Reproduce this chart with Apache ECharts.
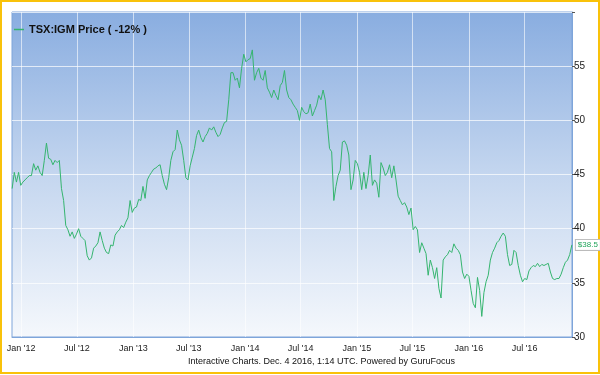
<!DOCTYPE html>
<html><head><meta charset="utf-8">
<script src="https://cdn.jsdelivr.net/npm/echarts@6/dist/echarts.min.js"></script>
<style>html,body{margin:0;padding:0;background:#fff}#c{width:600px;height:375px}</style>
</head><body><div id="c"></div>
<script>
// ---- data ----
const seriesName = "TSX:IGM Price ( -12% )";
const firstWeek = [2011, 12, 2];      // weekly closes, first one on Dec 2 2011
const prices = [
43.7,45.2,44.3,45.2,44.0,44.3,44.5,44.7,44.9,44.9,46.0,45.4,45.8,45.2,44.9,46.3,47.9,46.5,46.4,45.9,
46.3,46.1,46.3,43.7,42.6,40.3,39.9,39.3,39.7,39.1,39.5,40.0,39.3,39.1,38.9,37.5,37.1,37.3,38.2,38.4,
38.7,39.7,38.9,38.2,37.8,37.7,38.5,38.4,39.4,39.7,39.9,40.3,40.1,40.6,41.0,42.6,41.5,41.9,42.0,42.7,
42.6,43.9,42.8,44.5,44.9,45.2,45.5,45.6,45.8,45.9,44.9,44.1,43.6,44.7,46.3,47.1,47.3,49.1,48.2,47.7,
46.3,44.7,44.5,45.8,46.6,47.4,48.6,49.1,48.4,48.0,48.5,48.8,49.3,49.1,49.4,48.9,48.5,48.7,49.3,49.8,
49.9,51.9,54.4,54.4,53.7,53.9,53.0,54.8,56.1,55.4,55.6,55.7,56.5,53.7,54.4,54.8,53.9,53.7,54.6,53.0,
52.6,52.1,52.8,52.3,51.9,53.2,53.5,54.6,52.8,52.1,51.9,51.5,51.2,50.9,50.0,51.2,50.8,50.6,50.7,51.5,
50.4,50.9,51.4,52.3,51.9,52.8,51.9,49.6,47.4,47.1,42.6,43.9,44.9,45.4,48.0,48.1,47.7,46.8,43.6,44.5,
46.3,46.0,45.2,43.6,45.2,43.7,44.9,46.8,44.0,44.5,44.2,42.9,46.1,45.6,44.9,45.2,45.9,44.7,45.8,44.5,
43.0,42.6,42.2,42.4,42.0,41.3,41.9,39.9,40.2,39.9,37.8,38.7,38.2,37.7,35.7,37.1,36.4,35.4,36.4,34.5,
33.6,37.1,37.4,37.6,38.0,37.8,38.6,38.2,38.0,37.6,36.0,35.4,35.8,35.6,34.3,33.1,32.7,35.5,34.3,31.9,
34.1,35.1,35.7,37.1,37.8,38.2,38.7,38.9,39.3,39.6,39.3,37.6,36.6,36.7,38.0,37.8,36.6,35.7,35.1,35.4,
35.3,36.1,36.4,36.6,36.5,36.8,36.5,36.7,36.6,36.7,36.8,36.0,35.4,35.3,35.4,35.4,35.8,36.4,36.9,37.1,
37.6,38.5
];
const xTickDates = ['2012-01-01','2012-07-01','2013-01-01','2013-07-01','2014-01-01','2014-07-01',
                    '2015-01-01','2015-07-01','2016-01-01','2016-07-01'];
const xRange = ['2011-12-02','2016-12-03'];
const yRange = [30, 60];
const yStep = 5;
const monthNames = ['Jan','Feb','Mar','Apr','May','Jun','Jul','Aug','Sep','Oct','Nov','Dec'];
const footerText = 'Interactive Charts. Dec. 4 2016, 1:14 UTC. Powered by GuruFocus';

// ---- build ----
function ts(s){ const p = s.split('-').map(Number); return new Date(p[0], p[1]-1, p[2]).getTime(); }
const seriesData = prices.map((v, i) => {
  const d = new Date(firstWeek[0], firstWeek[1]-1, firstWeek[2] + 7*i, 12);
  return [d.getTime(), v];
});
const xTicks = xTickDates.map(ts);
const FONT = '"Liberation Sans", Arial, Helvetica, sans-serif';
const chart = echarts.init(document.getElementById('c'), null, {renderer:'canvas'});
chart.setOption({
  animation: false,
  backgroundColor: '#ffffff',
  textStyle: {fontFamily: FONT},
  grid: {
    left: 12, right: 28, top: 12, bottom: 38, show: true,
    borderColor: '#7ea5da', borderWidth: 1,
    backgroundColor: {type:'linear', x:0, y:0, x2:0, y2:1,
      colorStops:[{offset:0,color:'#89ade0'},{offset:0.5,color:'#c4d6ef'},{offset:1,color:'#f5f8fc'}]}
  },
  legend: {
    show: true, left: 14, top: 24, padding: 0,
    icon: 'rect', itemWidth: 10, itemHeight: 1.5,
    textStyle: {fontFamily: FONT, fontSize: 11, fontWeight: 'bold', color: '#111'},
    data: [{name: seriesName, itemStyle:{color:'#35b56f'}}]
  },
  xAxis: {
    type: 'value', min: ts(xRange[0]), max: ts(xRange[1]),
    axisLine: {show: true, lineStyle: {color: '#7ea5da', width: 1}},
    axisTick: {show: false, customValues: xTicks},
    axisLabel: {
      customValues: xTicks, color: '#222', fontSize: 9, margin: 7, fontFamily: FONT,
      formatter: v => { const d = new Date(v); return monthNames[d.getMonth()] + " '" + String(d.getFullYear()).slice(2); }
    },
    splitLine: {show: true, lineStyle: {color: 'rgba(255,255,255,0.6)', width: 1}}
  },
  yAxis: {
    type: 'value', position: 'right', min: yRange[0], max: yRange[1], interval: yStep,
    axisLine: {show: true, lineStyle: {color: '#7ea5da'}},
    axisTick: {show: true, length: 3, lineStyle: {color: '#555'}},
    axisLabel: {color: '#222', fontSize: 10, margin: 2, fontFamily: FONT,
      formatter: v => v === yRange[1] ? '' : String(v)},
    splitLine: {show: true, lineStyle: {color: 'rgba(255,255,255,0.7)', width: 1}}
  },
  series: [{
    name: seriesName, type: 'line', data: seriesData, showSymbol: false, symbol: 'none',
    lineStyle: {color: '#35b56f', width: 1}, itemStyle: {color: '#35b56f'},
    endLabel: {show: true, formatter: p => '$' + p.value[1], color: '#22a55c', fontSize: 8,
      fontFamily: FONT, backgroundColor: '#fff', borderColor: '#bbb', borderWidth: 1,
      padding: [1, 2], distance: 4}
  }],
  graphic: [
    {type: 'text', left: 188, top: 357, style: {text: footerText, font: '9px ' + FONT, fill: '#111'}},
    {type: 'rect', shape: {x: 1, y: 1, width: 598, height: 372}, style: {fill: 'none', stroke: '#f9c20a', lineWidth: 2}, silent: true}
  ]
});
</script></body></html>
